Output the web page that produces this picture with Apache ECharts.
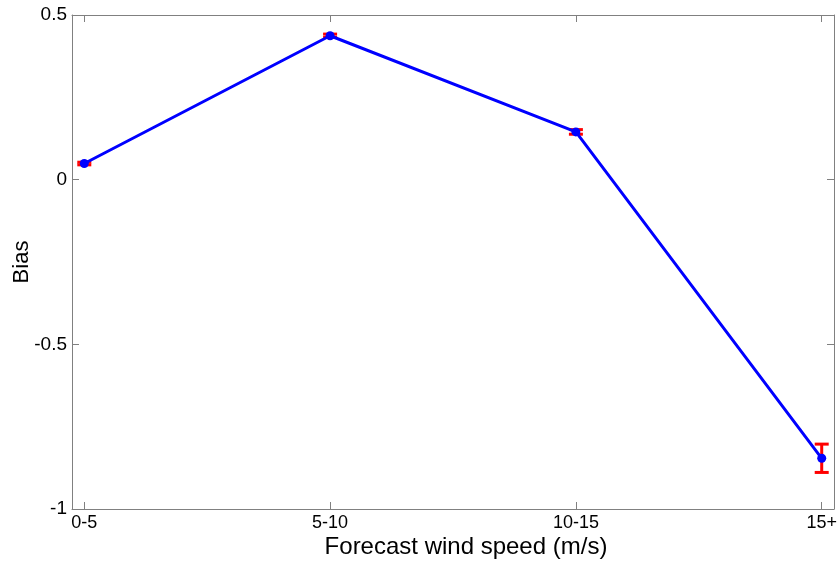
<!DOCTYPE html>
<html><head><meta charset="utf-8">
<script src="https://cdn.jsdelivr.net/npm/echarts@6/dist/echarts.min.js"></script>
<style>html,body{margin:0;padding:0;background:#fff}#c{width:837px;height:561px}</style>
</head><body><div id="c"></div>
<script>
var categories = ['0-5', '5-10', '10-15', '15+'];
var biasValues = [0.049, 0.437, 0.145, -0.846];
var errValues = [0.004, 0.005, 0.007, 0.043];
var yTicks = [-1, -0.5, 0, 0.5];

var pts = biasValues.map(function (v, i) { return [i + 1, v]; });
var errData = biasValues.map(function (v, i) { return [i + 1, v - errValues[i], v + errValues[i]]; });
var FONT = '"Liberation Sans", Arial, sans-serif';
var tickPos = categories.map(function (c, i) { return i + 1; });

var chart = echarts.init(document.getElementById('c'), null, { renderer: 'canvas' });
var axisLineStyle = { color: '#808080', width: 1 };
chart.setOption({
  animation: false,
  backgroundColor: '#fff',
  grid: { left: 72, right: 3, top: 15, bottom: 52, show: false, containLabel: false, outerBoundsMode: 'none' },
  xAxis: [{
    type: 'value', min: 0.95, max: 4.05, position: 'bottom',
    axisLine: { show: true, onZero: false, lineStyle: axisLineStyle },
    axisTick: { show: true, inside: true, length: 7, customValues: tickPos, lineStyle: axisLineStyle },
    axisLabel: { customValues: tickPos, fontFamily: FONT, fontSize: 18, color: '#000', margin: 5,
      formatter: function (v) { return categories[Math.round(v) - 1] || ''; } },
    splitLine: { show: false },
    name: 'Forecast wind speed (m/s)', nameLocation: 'middle', nameGap: 26, nameMoveOverlap: false,
    nameTextStyle: { fontFamily: FONT, fontSize: 24, color: '#000', padding: [0, 0, 0, 26] }
  }, {
    type: 'value', min: 0.95, max: 4.05, position: 'top',
    axisLine: { show: true, onZero: false, lineStyle: axisLineStyle },
    axisTick: { show: true, inside: true, length: 7, customValues: tickPos, lineStyle: axisLineStyle },
    axisLabel: { show: false }, splitLine: { show: false }
  }],
  yAxis: [{
    type: 'value', min: -1, max: 0.5, interval: 0.5, position: 'left',
    axisLine: { show: true, onZero: false, lineStyle: axisLineStyle },
    axisTick: { show: true, inside: true, length: 7, lineStyle: axisLineStyle },
    axisLabel: { fontFamily: FONT, fontSize: 19, color: '#000', margin: 5,
      formatter: function (v) { return String(Math.round(v * 10) / 10); } },
    splitLine: { show: false },
    name: 'Bias', nameLocation: 'middle', nameGap: 39, nameMoveOverlap: false,
    nameTextStyle: { fontFamily: FONT, fontSize: 22, color: '#000' }
  }, {
    type: 'value', min: -1, max: 0.5, interval: 0.5, position: 'right',
    axisLine: { show: true, onZero: false, lineStyle: axisLineStyle },
    axisTick: { show: true, inside: true, length: 7, lineStyle: axisLineStyle },
    axisLabel: { show: false }, splitLine: { show: false }
  }],
  series: [{
    type: 'line', data: pts, xAxisIndex: 0, yAxisIndex: 0,
    lineStyle: { color: '#0000ff', width: 3 },
    symbol: 'circle', symbolSize: 9, itemStyle: { color: '#0000ff' }, z: 3
  }, {
    type: 'custom', xAxisIndex: 0, yAxisIndex: 0, data: errData, z: 2,
    renderItem: function (params, api) {
      var x = api.value(0);
      var lo = api.coord([x, api.value(1)]);
      var hi = api.coord([x, api.value(2)]);
      var hw = 7;
      var st = { stroke: '#ff0000', lineWidth: 3, fill: null };
      return { type: 'group', children: [
        { type: 'line', shape: { x1: lo[0], y1: lo[1], x2: hi[0], y2: hi[1] }, style: st },
        { type: 'line', shape: { x1: lo[0] - hw, y1: lo[1], x2: lo[0] + hw, y2: lo[1] }, style: st },
        { type: 'line', shape: { x1: hi[0] - hw, y1: hi[1], x2: hi[0] + hw, y2: hi[1] }, style: st }
      ] };
    }
  }]
});
</script></body></html>
